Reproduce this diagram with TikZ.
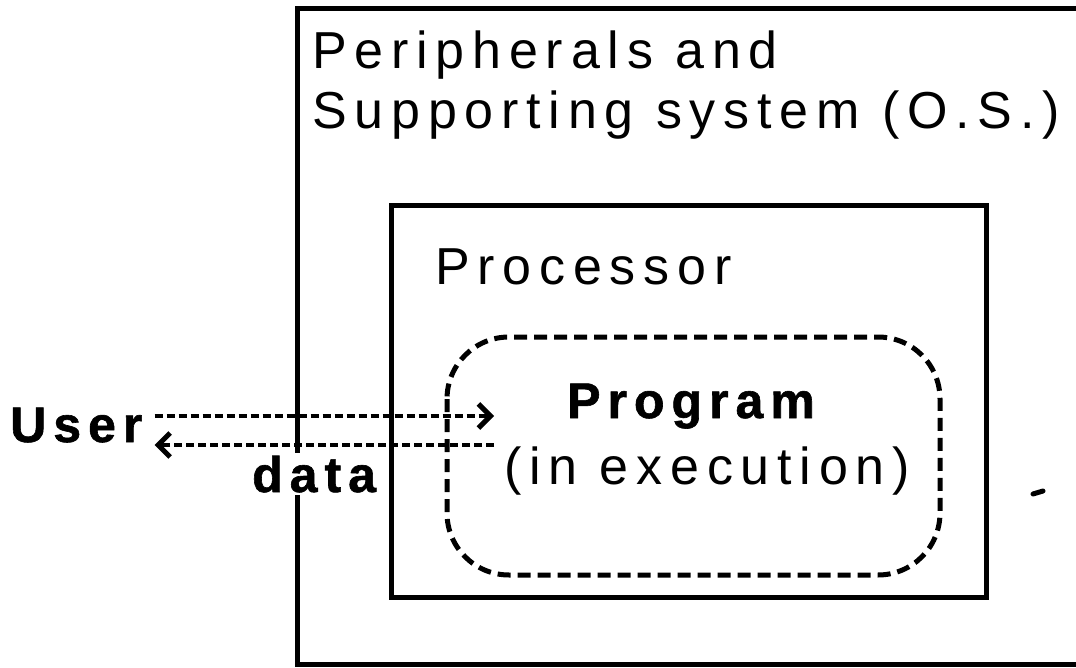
\documentclass[tikz,border=0pt]{standalone}
\usepackage{fontspec}
\setmainfont{Liberation Sans}
\usetikzlibrary{arrows.meta}
\tikzset{
  frame/.style={line width=5pt},
  lbl/.style={anchor=base west, inner sep=0pt,
    font=\fontsize{52}{58}\selectfont\addfontfeature{LetterSpace=15}},
  blbl/.style={anchor=base west, inner sep=0pt,
    font=\fontsize{50}{56}\selectfont\bfseries\addfontfeature{LetterSpace=14,FakeBold=1.2}},
  progbox/.style={line width=5pt, dash pattern=on 13pt off 7pt, rounded corners=62pt},
  flow/.style={line width=3.5pt, dash pattern=on 8pt off 4pt,
    -{Straight Barb[length=12pt,width=24pt,line width=5pt]}},
}
\begin{document}
\begin{tikzpicture}[x=1pt,y=-1pt]
  \useasboundingbox (0,0) rectangle (1076,668);
  \fill[white] (0,0) rectangle (1076,668);

  % outer system box, running off to the right
  \coordinate (osNW) at (297,9);
  \coordinate (osSW) at (297,664);
  \draw[frame] (1080,9) -- (osNW) -- (osSW) -- (1080,664);

  % processor box
  \coordinate (cpuNW) at (391,206);
  \coordinate (cpuSE) at (986,597);
  \draw[frame] (cpuNW) rectangle (cpuSE);

  % program (in execution)
  \coordinate (progNW) at (447,337);
  \coordinate (progSE) at (940,575);
  \draw[progbox] (progNW) rectangle (progSE);

  % labels
  \node[lbl] (periph) at (312,69) {Peripherals and};
  \node[lbl] (support) at (312,129) {Supporting system (O.S.)};
  \node[lbl] (cpu) at (435,284) {Processor};
  \node[blbl] (prog) at (567,418) {Program};
  \node[lbl] (exec) at (504,484) {(in execution)};
  \node[blbl] (user) at (10,442) {User};
  \node[blbl, fill=white, inner xsep=2pt, inner ysep=3pt] (data) at (250,492) {data};

  % data flow between user and program
  \coordinate (progIn) at (494,416);
  \coordinate (progOut) at (494,445);
  \draw[flow] (user.east |- progIn) ++(12,0) coordinate (userOut) -- (progIn);
  \draw[flow] (progOut) -- (userOut |- progOut);

  % small mark right of the processor box
  \draw[line width=5pt, line cap=round] (1033,494) -- (1043,491);
\end{tikzpicture}
\end{document}
